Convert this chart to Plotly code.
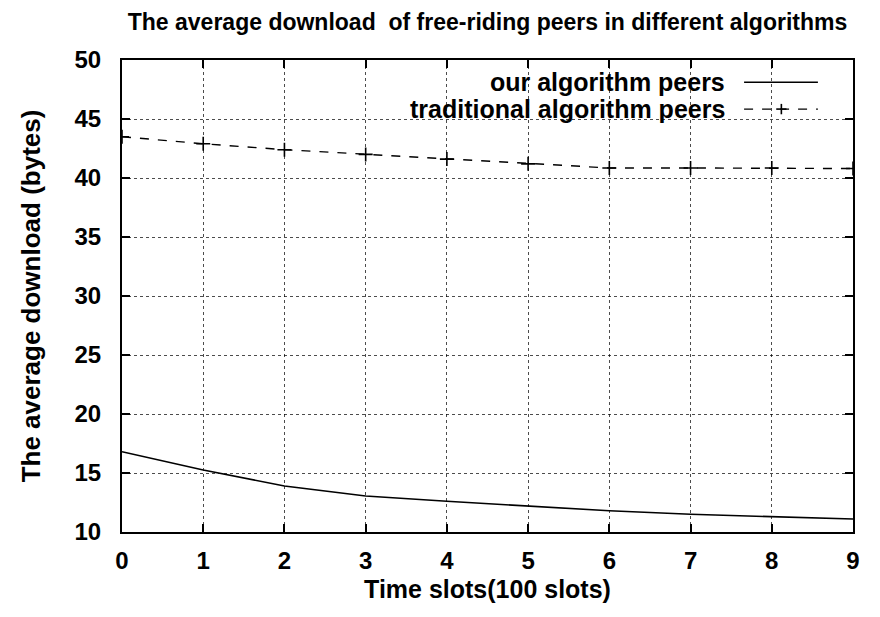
import plotly.graph_objects as go

# Time slots (units of 100 slots)
time_slots = [0, 1, 2, 3, 4, 5, 6, 7, 8, 9]

# Average download per free-riding peer (bytes)
our_algorithm = [16.8, 15.25, 13.9, 13.05, 12.6, 12.2, 11.8, 11.5, 11.3, 11.1]
traditional_algorithm = [43.5, 42.9, 42.4, 42.0, 41.6, 41.2, 40.85, 40.85, 40.85, 40.8]

y_ticks = [10, 15, 20, 25, 30, 35, 40, 45, 50]

FONT = "Liberation Sans, Arial, sans-serif"


def bold(s):
    return "<b>" + s + "</b>"


fig = go.Figure()

fig.add_trace(go.Scatter(
    x=time_slots, y=our_algorithm, mode="lines",
    line=dict(color="black", width=1.6),
    name="our algorithm peers", showlegend=False,
))
fig.add_trace(go.Scatter(
    x=time_slots, y=traditional_algorithm, mode="lines+markers",
    line=dict(color="black", width=1.4, dash="dash"),
    marker=dict(symbol="cross-thin", size=10, line=dict(color="black", width=1.6)),
    name="traditional algorithm peers", showlegend=False,
))

# gnuplot-style key: right-aligned text with the sample to its right
key_rows = [
    ("our algorithm peers", 0.953, "solid", False),
    ("traditional algorithm peers", 0.896, "dash", True),
]
for label, ky, dash, cross in key_rows:
    fig.add_annotation(
        x=0.827, y=ky, xref="paper", yref="paper", text=bold(label),
        showarrow=False, xanchor="right", yanchor="middle",
        font=dict(family=FONT, size=25, color="black"),
    )
    fig.add_shape(
        type="line", xref="paper", yref="paper",
        x0=0.851, x1=0.952, y0=ky, y1=ky,
        line=dict(color="black", width=1.4, dash=dash),
    )
    if cross:
        fig.add_shape(type="line", xref="paper", yref="paper",
                      x0=0.895, x1=0.909, y0=ky, y1=ky,
                      line=dict(color="black", width=1.6))
        fig.add_shape(type="line", xref="paper", yref="paper",
                      x0=0.902, x1=0.902, y0=ky - 0.011, y1=ky + 0.011,
                      line=dict(color="black", width=1.6))

axis_common = dict(
    showline=True, linecolor="black", linewidth=2, mirror="ticks",
    ticks="inside", ticklen=8, tickwidth=1.5, tickcolor="black",
    showgrid=True, gridcolor="rgba(0,0,0,0.7)", gridwidth=1, griddash="dot",
    zeroline=False,
    tickfont=dict(family=FONT, size=24, color="black"),
)

fig.update_xaxes(
    range=[0, 9], tickmode="array", tickvals=time_slots,
    ticktext=[bold(str(v)) for v in time_slots],
    ticklabelstandoff=6,
    title=dict(text=bold("Time slots(100 slots)"),
               font=dict(family=FONT, size=25, color="black"), standoff=8),
    **axis_common,
)
fig.update_yaxes(
    range=[10, 50], tickmode="array", tickvals=y_ticks,
    ticktext=[bold(str(v)) for v in y_ticks],
    ticklabelstandoff=14,
    title=dict(text=bold("The average download (bytes)"),
               font=dict(family=FONT, size=26, color="black"), standoff=26),
    **axis_common,
)

fig.update_layout(
    width=880, height=617,
    margin=dict(l=122, r=27, t=60, b=85),
    paper_bgcolor="white", plot_bgcolor="white",
    title=dict(
        text=bold("The average download  of free-riding peers in different algorithms"),
        font=dict(family=FONT, size=23, color="black"),
        x=0.554, xanchor="center", y=0.964, yanchor="middle",
    ),
)

fig.write_html("out.html")
